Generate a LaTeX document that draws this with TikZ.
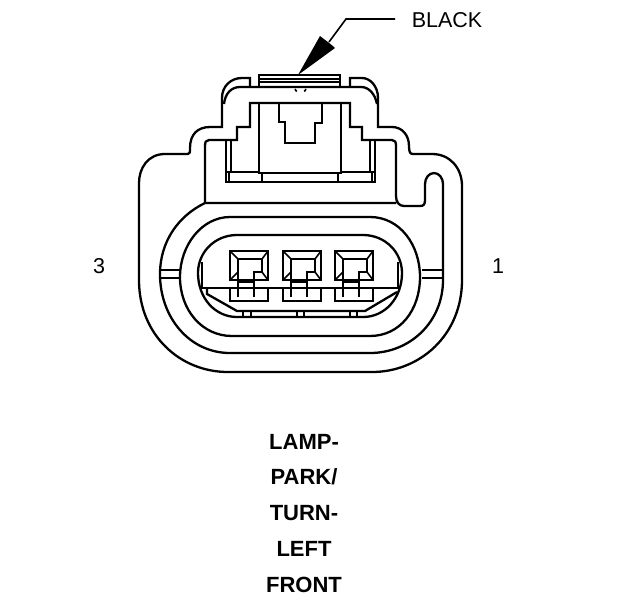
\documentclass[tikz,border=0pt]{standalone}
\usepackage{fontspec}
\setmainfont{Liberation Sans}
\tikzset{
  ln/.style={draw=black,line width=2.3pt,line join=miter,line cap=butt},
  thin2/.style={draw=black,line width=1.6pt},
  lbl/.style={font=\fontsize{21.5}{24}\selectfont,inner sep=0pt,anchor=center},
  blbl/.style={font=\fontsize{22}{24}\selectfont\bfseries,inner sep=0pt,anchor=center},
  pinbox/.pic={
    \draw[ln] (0,0) rectangle (38,29);
    \draw[ln] (8,38) -- (8,8) -- (32,8) -- (32,21) -- (24,21) -- (24,46);
    \draw[thin2] (0,0) -- (8,8) (38,0) -- (32,8) (0,29) -- (8,21) (38,29) -- (32,21);
    \draw[thin2] (8,31) -- (24,31) (8,46) -- (8,37);
    \draw[ln] (0,37) -- (0,50) -- (38,50) -- (38,37);
  }
}
\begin{document}
\begin{tikzpicture}[x=1pt,y=-1pt]
\useasboundingbox (0,0) rectangle (624,600);
\fill[white] (0,0) rectangle (624,600);
% outer shell with side tabs
\draw[ln] (250,87) -- (250,78) -- (242,78) .. controls (231,78) and (222,86) .. (222,98)
  -- (222,127) -- (210,127) .. controls (198,127) and (190,134) .. (190,148)
  .. controls (190,152) and (190,154) .. (188,154) -- (165,154)
  .. controls (148,154) and (139,168) .. (139,183) -- (139,280)
  .. controls (139,335) and (180,372) .. (228,372) -- (372,372)
  .. controls (420,372) and (462,335) .. (462,280) -- (462,186)
  .. controls (462,168) and (450,154) .. (432,154) -- (413,154)
  .. controls (410,154) and (409,152) .. (409,146) .. controls (409,135) and (402,127) .. (392,127)
  -- (378,127) -- (378,98) .. controls (378,86) and (370,78) .. (362,78) -- (350,78) -- (350,87);
% shell inner top line
\draw[ln] (224,104) .. controls (225,94) and (231,87) .. (240,87) -- (361,87)
  .. controls (369,87) and (375,94) .. (377,104);
% top tab
\draw[ln] (259,87) -- (259,75) -- (340,75) -- (340,87);
\draw[thin2] (260,79) -- (339,79);
\draw[thin2] (260,82) -- (339,82);
\draw[thin2] (295,89) .. controls (296,91) and (296,91) .. (297,91);
\draw[thin2] (306,89) .. controls (305,91) and (305,91) .. (304,91);
% inner stepped line and ring
\draw[ln] (205,203) -- (205,146) .. controls (205,142) and (206,140) .. (209,140) -- (237,140)
  -- (237,127) -- (250,127) -- (250,103) -- (350,103) -- (350,127) -- (362,127) -- (362,140) -- (392,140)
  .. controls (395,140) and (396,142) .. (396,146) -- (396,196)
  .. controls (396,202) and (399,206) .. (404,206) -- (420,206)
  .. controls (424,206) and (425,204) .. (425,200) -- (425,184)
  .. controls (425,178) and (429,173) .. (434,173) .. controls (439,173) and (443,178) .. (443,184)
  -- (443,280) .. controls (443,322) and (410,353) .. (370,353) -- (230,353)
  .. controls (190,353) and (160,318) .. (160,274) .. controls (160,242) and (178,216) .. (205,203)
  -- (396,203);
% inner box
\draw[ln] (259,103) -- (259,173) -- (341,173) -- (341,103);
\draw[ln] (226,140) -- (226,182) -- (375,182) -- (375,140);
\draw[thin2] (231,140) -- (231,172) (370,140) -- (370,172);
\draw[thin2] (226,172) -- (259,172) (341,172) -- (375,172);
\draw[thin2] (229,173) -- (229,182) (372,173) -- (372,182) (262,173) -- (262,182) (338,173) -- (338,182);
\draw[ln] (279,103) -- (279,122) -- (285,122) -- (285,143) -- (315,143) -- (315,123) -- (322,123) -- (322,103);
% side bars
\draw[ln] (160,270) -- (180,270) (160,278) -- (180,278);
\draw[ln] (422,270) -- (443,270) (422,278) -- (443,278);
% middle oval
\draw[ln] (230,217) -- (370,217) .. controls (400,217) and (420,245) .. (420,277)
  .. controls (420,310) and (400,336) .. (370,336) -- (232,336)
  .. controls (202,336) and (180,310) .. (180,277) .. controls (180,245) and (202,217) .. (230,217) -- cycle;
% inner oval
\draw[ln] (237,235) -- (363,235) .. controls (385,235) and (402,252) .. (402,273)
  .. controls (402,298) and (385,317) .. (363,317) -- (237,317)
  .. controls (215,317) and (198,298) .. (198,273) .. controls (198,252) and (215,235) .. (237,235) -- cycle;
\draw[thin2] (202,262) -- (202,288) (398,262) -- (398,288);
\draw[ln] (200,288) -- (400,288);
\draw[ln] (207,289) -- (207,294) -- (237,311) -- (365,311) -- (397,292);
\draw[thin2] (243,311) -- (243,317) (251,311) -- (251,317) (297,311) -- (297,317) (304,311) -- (304,317) (350,311) -- (350,317) (357,311) -- (357,317);
% terminals
\pic at (230,251) {pinbox};
\pic at (283,251) {pinbox};
\pic at (335,251) {pinbox};
% arrow and texts
\node[lbl] (black) at (447,20) {BLACK};
\coordinate (tip) at (298,75);
\coordinate (arrowback) at (329,42);
\coordinate (leaderend) at (395,19);
\fill[black] (tip) -- (320,36) .. controls (325,40) and (331,44) .. (335,48) -- cycle;
\draw[line width=1.6pt] (arrowback) -- (346,19) -- (leaderend);
\node[lbl] (n3) at (99,266) {3};
\node[lbl] (n1) at (498,266) {1};
\node[blbl] (t1) at (304,442) {LAMP-};
\node[blbl] (t2) at (304,477) {PARK/};
\node[blbl] (t3) at (304,513) {TURN-};
\node[blbl] (t4) at (304,549) {LEFT};
\node[blbl] (t5) at (304,585) {FRONT};
\end{tikzpicture}
\end{document}
